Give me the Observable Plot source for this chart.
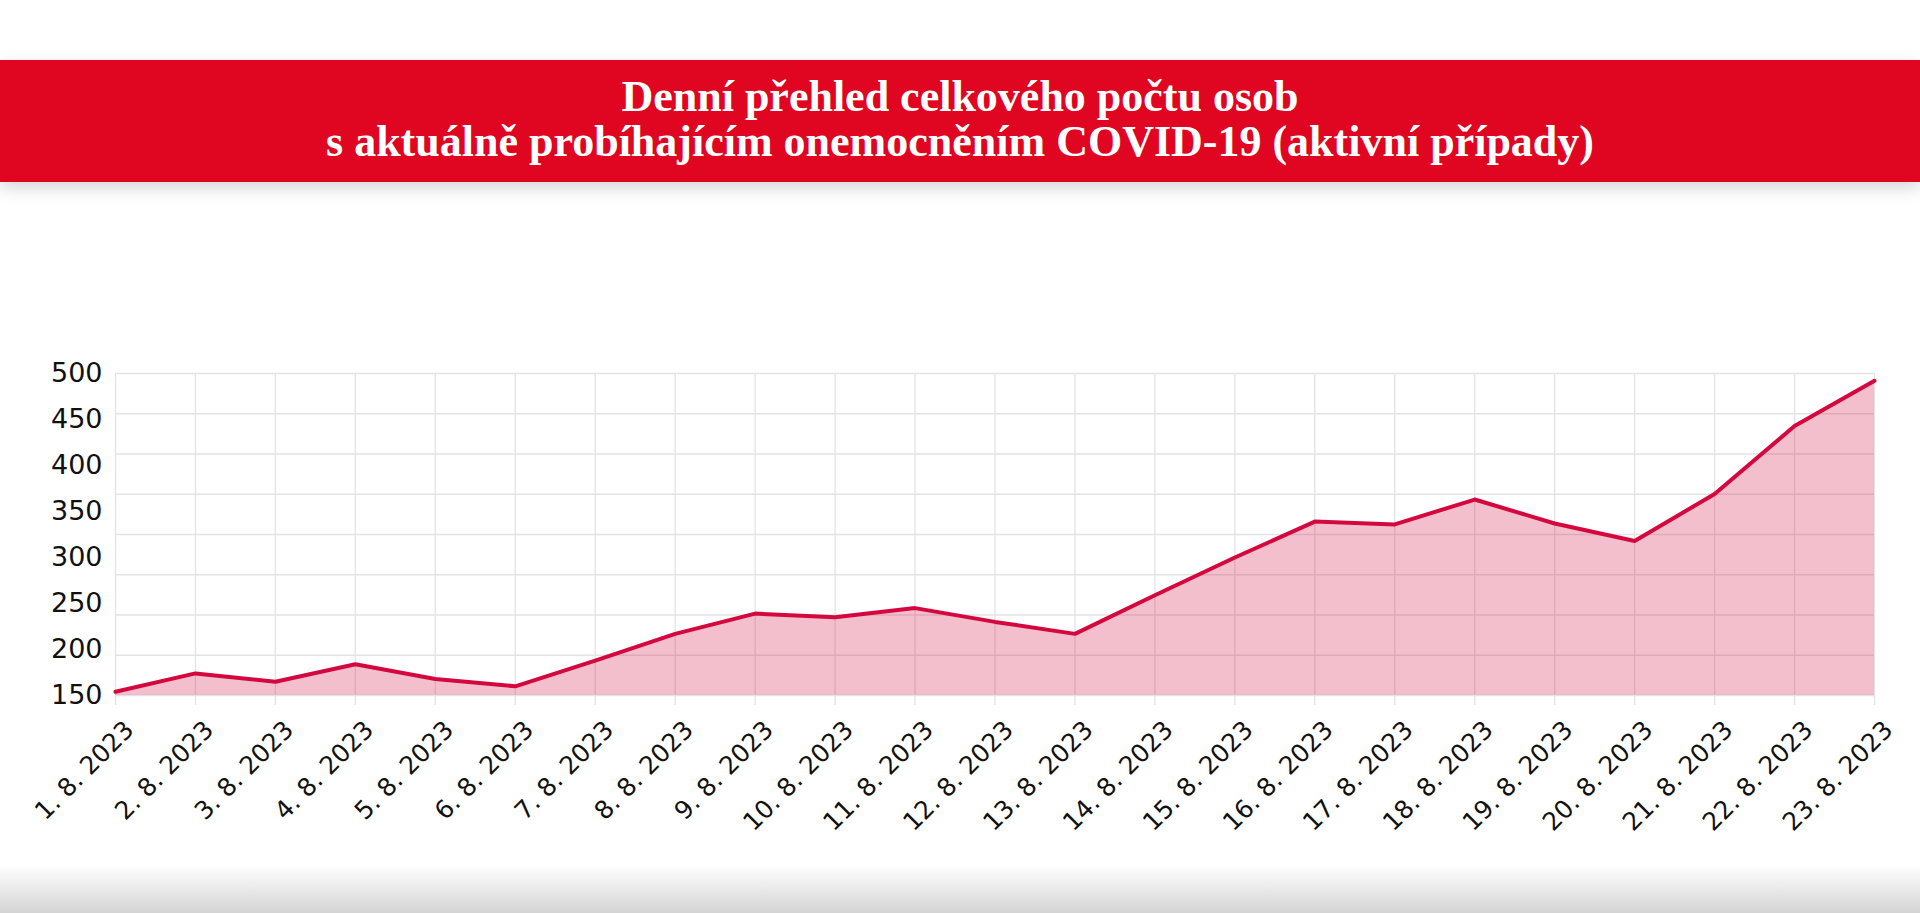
<!DOCTYPE html>
<html><head><meta charset="utf-8">
<script src="https://cdn.jsdelivr.net/npm/d3@7"></script>
<script src="https://cdn.jsdelivr.net/npm/@observablehq/plot@0.6"></script>
<style>
html,body{margin:0;padding:0;background:#fff;width:1920px;height:913px;overflow:hidden;position:relative}
#band{position:absolute;left:0;top:60px;width:1920px;height:122px;box-sizing:border-box;padding-bottom:5px;background:#e00520;box-shadow:0 6px 16px rgba(0,0,0,0.16);display:flex;align-items:center;justify-content:center;text-align:center;color:#fff;font-family:"Liberation Serif",serif;font-weight:bold;font-size:44px;line-height:45px;z-index:2}
#chart{position:absolute;left:0;top:200px}
#foot{position:absolute;left:0;top:865px;width:1920px;height:48px;background:linear-gradient(#fff,#d4d4d4)}
</style></head>
<body>
<div id="band"><div>Denní přehled celkového počtu osob<br>s aktuálně probíhajícím onemocněním COVID-19 (aktivní případy)</div></div>
<div id="chart"></div>
<div id="foot"></div>
<script>
const dates = ["1. 8. 2023","2. 8. 2023","3. 8. 2023","4. 8. 2023","5. 8. 2023","6. 8. 2023","7. 8. 2023","8. 8. 2023","9. 8. 2023","10. 8. 2023","11. 8. 2023","12. 8. 2023","13. 8. 2023","14. 8. 2023","15. 8. 2023","16. 8. 2023","17. 8. 2023","18. 8. 2023","19. 8. 2023","20. 8. 2023","21. 8. 2023","22. 8. 2023","23. 8. 2023"];
const activeCases = [154,174,165,184,168,160,188,217,239,235,245,230,217,259,300,339,336,363,337,318,369,443,492];
const yTicks = [150,200,250,300,350,400,450,500];

const data = dates.map((d, i) => ({date: d, value: activeCases[i]}));
const yMin = yTicks[0], yMax = yTicks[yTicks.length - 1];
const gridY = d3.range(9).map(i => yMin + i * (yMax - yMin) / 8);
const lineColor = "#d4083e";

const chart = Plot.plot({
  width: 1920,
  height: 665,
  marginTop: 173,
  marginBottom: 170,
  marginLeft: 115,
  marginRight: 46,
  style: {background: "transparent", fontFamily: "DejaVu Sans", color: "#111", overflow: "visible"},
  x: {type: "point", domain: dates, padding: 0, round: false},
  y: {domain: [yMin, yMax]},
  marks: [
    Plot.ruleY(gridY, {stroke: "#e3e3e3", strokeWidth: 1.3}),
    Plot.ruleX(dates, {y1: yMax, y2: yMin, insetBottom: -10, stroke: "#e3e3e3", strokeWidth: 1.3}),
    Plot.areaY(data, {x: "date", y1: yMin, y2: "value", fill: lineColor, fillOpacity: 0.26}),
    Plot.lineY(data, {x: "date", y: "value", stroke: lineColor, strokeWidth: 4}),
    Plot.axisY(yTicks, {tickSize: 0, tickPadding: 13, fontSize: 27, label: null}),
    Plot.axisX({tickSize: 0, tickRotate: -45, tickPadding: 30, dx: 14, fontSize: 25, label: null})
  ]
});
document.getElementById("chart").appendChild(chart);
</script>
</body></html>
